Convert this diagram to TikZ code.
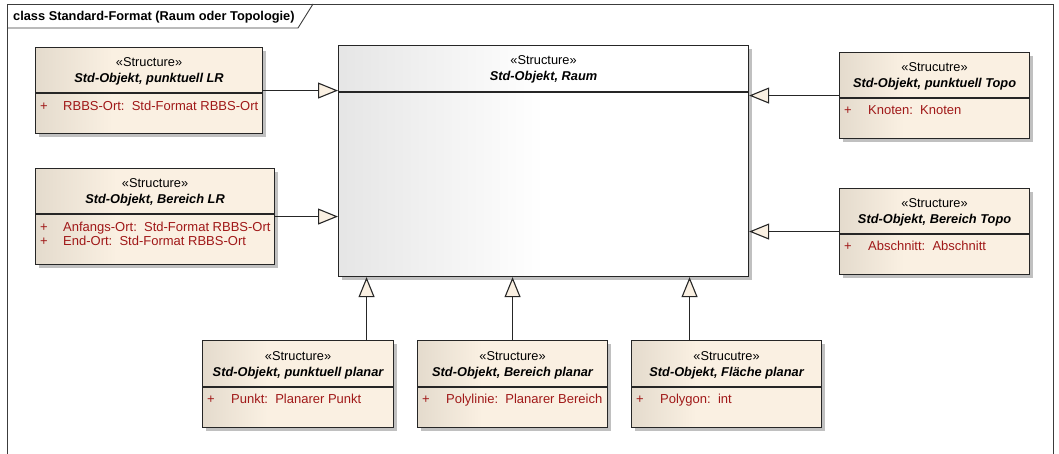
\documentclass[tikz,border=0pt]{standalone}
\usepackage{fontspec}
\setmainfont{Liberation Sans}
\usetikzlibrary{arrows.meta,positioning,calc,shadows}
\definecolor{clsbody}{RGB}{250,240,226}
\definecolor{clsedge}{RGB}{228,219,205}
\definecolor{attrred}{RGB}{160,24,24}
\definecolor{framegray}{RGB}{60,60,60}
\definecolor{shadowgray}{RGB}{192,192,192}
\pgfdeclarehorizontalshading{clsfill}{100bp}{color(0bp)=(clsedge); color(25bp)=(clsedge); color(42bp)=(clsbody); color(100bp)=(clsbody)}
\pgfdeclarehorizontalshading{basefill}{100bp}{color(0bp)=(black!10); color(25bp)=(black!10); color(50bp)=(white); color(100bp)=(white)}

\begin{document}
\begin{tikzpicture}[x=1pt, y=-1pt,
    cls/.style={draw=black!85, line width=1.1pt, shade, shading=clsfill, inner sep=0pt, anchor=north west,
                general shadow={fill=shadowgray, shadow xshift=3pt, shadow yshift=-3pt}},
    basecls/.style={cls, shading=basefill},
    stereo/.style={anchor=base, inner sep=0pt, font=\fontsize{12.8}{15}\selectfont},
    cname/.style={anchor=base, inner sep=0pt, font=\fontsize{12.8}{15}\selectfont\bfseries\itshape},
    attr/.style={anchor=base west, inner sep=0pt, text=attrred, font=\fontsize{13}{15}\selectfont},
    sep/.style={draw=black!85, line width=1.1pt},
    gen/.style={draw=black!85, line width=1.1pt, -{Triangle[length=20pt, width=16pt, fill=clsbody]}},
]
    \useasboundingbox (0,0) rectangle (1059,454);

    % diagram frame and name tab
    \draw[framegray, line width=0.9pt] (7,4) rectangle (1053,470);
    \draw[framegray, line width=0.9pt] (7,28) -- (298,28) -- (313,4);
    \node[anchor=base west, inner sep=0pt, font=\fontsize{12.8}{15}\selectfont\bfseries] (title) at (13,21)
        {class Standard-Format (Raum oder Topologie)};

    % common base class
    \node[basecls, minimum width=410pt, minimum height=231pt] (raum) at (338,45) {};
    \node[stereo] (raumst) at ($(raum.north)+(0,20)$) {«Structure»};
    \node[cname] (raumnm) at ($(raum.north)+(0,36)$) {Std-Objekt, Raum};
    \draw[sep] ($(raum.north west)+(0,47)$) -- ($(raum.north east)+(0,47)$);

    % LR side
    \node[cls, minimum width=227pt, minimum height=86pt] (lr1) at (35,47) {};
    \node[stereo] (lr1st) at ($(lr1.north)+(0,20)$) {«Structure»};
    \node[cname] (lr1nm) at ($(lr1.north)+(0,36)$) {Std-Objekt, punktuell LR};
    \draw[sep] ($(lr1.north west)+(0,46)$) -- ($(lr1.north east)+(0,46)$);
    \node[attr] (lr1a) at ($(lr1.north west)+(5,64)$) {\makebox[23pt][l]{+}RBBS-Ort:~~Std-Format RBBS-Ort};

    \node[cls, minimum width=239pt, minimum height=96pt] (lr2) at (35,168) {};
    \node[stereo] (lr2st) at ($(lr2.north)+(0,20)$) {«Structure»};
    \node[cname] (lr2nm) at ($(lr2.north)+(0,36)$) {Std-Objekt, Bereich LR};
    \draw[sep] ($(lr2.north west)+(0,46)$) -- ($(lr2.north east)+(0,46)$);
    \node[attr] (lr2a) at ($(lr2.north west)+(5,64)$) {\makebox[23pt][l]{+}Anfangs-Ort:~~Std-Format RBBS-Ort};
    \node[attr] (lr2b) at ($(lr2.north west)+(5,78)$) {\makebox[23pt][l]{+}End-Ort:~~Std-Format RBBS-Ort};

    % Topo side
    \node[cls, minimum width=190pt, minimum height=86pt] (topo1) at (839,52) {};
    \node[stereo] (topo1st) at ($(topo1.north)+(0,20)$) {«Strucutre»};
    \node[cname] (topo1nm) at ($(topo1.north)+(0,36)$) {Std-Objekt, punktuell Topo};
    \draw[sep] ($(topo1.north west)+(0,46)$) -- ($(topo1.north east)+(0,46)$);
    \node[attr] (topo1a) at ($(topo1.north west)+(5,63)$) {\makebox[24pt][l]{+}Knoten:~~Knoten};

    \node[cls, minimum width=190pt, minimum height=86pt] (topo2) at (839,188) {};
    \node[stereo] (topo2st) at ($(topo2.north)+(0,20)$) {«Structure»};
    \node[cname] (topo2nm) at ($(topo2.north)+(0,36)$) {Std-Objekt, Bereich Topo};
    \draw[sep] ($(topo2.north west)+(0,46)$) -- ($(topo2.north east)+(0,46)$);
    \node[attr] (topo2a) at ($(topo2.north west)+(5,63)$) {\makebox[24pt][l]{+}Abschnitt:~~Abschnitt};

    % planar variants
    \node[cls, minimum width=191pt, minimum height=87pt] (pl1) at (202,340) {};
    \node[stereo] (pl1st) at ($(pl1.north)+(0,20)$) {«Structure»};
    \node[cname] (pl1nm) at ($(pl1.north)+(0,36)$) {Std-Objekt, punktuell planar};
    \draw[sep] ($(pl1.north west)+(0,47)$) -- ($(pl1.north east)+(0,47)$);
    \node[attr] (pl1a) at ($(pl1.north west)+(5,63)$) {\makebox[24pt][l]{+}Punkt:~~Planarer Punkt};

    \node[cls, minimum width=190pt, minimum height=87pt] (pl2) at (417,340) {};
    \node[stereo] (pl2st) at ($(pl2.north)+(0,20)$) {«Structure»};
    \node[cname] (pl2nm) at ($(pl2.north)+(0,36)$) {Std-Objekt, Bereich planar};
    \draw[sep] ($(pl2.north west)+(0,47)$) -- ($(pl2.north east)+(0,47)$);
    \node[attr] (pl2a) at ($(pl2.north west)+(5,63)$) {\makebox[24pt][l]{+}Polylinie:~~Planarer Bereich};

    \node[cls, minimum width=190pt, minimum height=87pt] (pl3) at (631,340) {};
    \node[stereo] (pl3st) at ($(pl3.north)+(0,20)$) {«Strucutre»};
    \node[cname] (pl3nm) at ($(pl3.north)+(0,36)$) {Std-Objekt, Fläche planar};
    \draw[sep] ($(pl3.north west)+(0,47)$) -- ($(pl3.north east)+(0,47)$);
    \node[attr] (pl3a) at ($(pl3.north west)+(5,63)$) {\makebox[24pt][l]{+}Polygon:~~int};

    % generalisations
    \draw[gen] (lr1.east) -- (lr1.east -| raum.west);
    \draw[gen] (lr2.east) -- (lr2.east -| raum.west);
    \draw[gen] (topo1.west) -- (topo1.west -| raum.east);
    \draw[gen] (topo2.west) -- (topo2.west -| raum.east);
    \draw[gen] ([xshift=68.5pt]pl1.north) -- ([xshift=68.5pt]pl1.north |- raum.south);
    \draw[gen] (pl2.north) -- (pl2.north |- raum.south);
    \draw[gen] ([xshift=-37pt]pl3.north) -- ([xshift=-37pt]pl3.north |- raum.south);
\end{tikzpicture}
\end{document}
